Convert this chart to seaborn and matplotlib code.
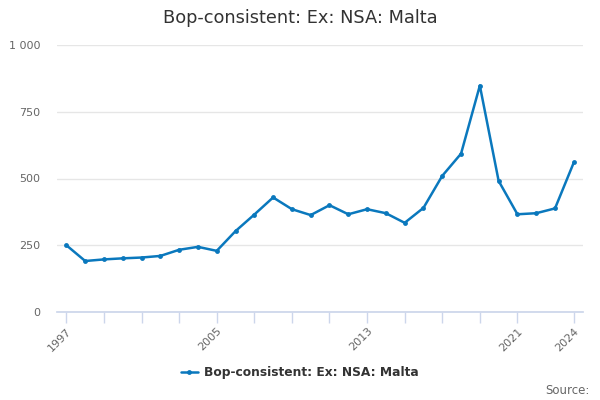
import matplotlib
matplotlib.use("Agg")
import matplotlib.pyplot as plt
import matplotlib.ticker as mticker
import seaborn as sns
import pandas as pd

years = list(range(1997, 2025))
values = [250, 191, 197, 201, 204, 210, 233, 244, 229, 303, 365, 429, 385,
          363, 400, 366, 385, 370, 334, 390, 510, 593, 848, 491, 366, 370, 388, 560]
series_name = "Bop-consistent: Ex: NSA: Malta"
title = "Bop-consistent: Ex: NSA: Malta"
tick_years = [1997, 1999, 2001, 2003, 2005, 2007, 2009, 2011, 2013, 2015, 2017, 2019, 2021, 2024]
label_years = [1997, 2005, 2013, 2021, 2024]
y_ticks = [0, 250, 500, 750, 1000]

df = pd.DataFrame({"year": years, "value": values, "series": series_name})

sns.set_theme(style="white")
plt.rcParams['font.family'] = ['DejaVu Sans']

fig = plt.figure(figsize=(6, 4), dpi=100)
ax = fig.add_axes([0.095, 0.22, 0.877, 0.6675])

line_color = "#0a78bd"
sns.lineplot(data=df, x="year", y="value", hue="series", palette=[line_color],
             marker="o", markersize=3.5, markeredgewidth=0, linewidth=1.8, ax=ax)

ax.set_xlim(1996.5, 2024.5)
ax.set_ylim(0, 1000)
ax.set_yticks(y_ticks)
ax.yaxis.set_major_formatter(mticker.FuncFormatter(lambda v, p: f"{int(v):,}".replace(",", " ")))
ax.grid(axis="y", color="#e6e6e6", linewidth=1)
ax.set_axisbelow(True)
ax.set_xticks(tick_years)
ax.set_xticklabels([str(y) if y in label_years else "" for y in tick_years],
                   rotation=45, ha="right", rotation_mode="anchor")
ax.tick_params(axis="x", bottom=True, colors="#ccd6eb", length=8, width=1, direction="out",
               labelcolor="#666666", labelsize=8, pad=2)
ax.tick_params(axis="y", left=False, length=0, labelcolor="#666666", labelsize=8, pad=12)
for s in ["top", "right", "left"]:
    ax.spines[s].set_visible(False)
ax.spines["bottom"].set_color("#ccd6eb")
ax.set_xlabel("")
ax.set_ylabel("")

leg = ax.legend(loc="center", bbox_to_anchor=(0.461, -0.228), frameon=False,
                prop={"weight": "bold", "size": 8.8}, handlelength=1.4, handletextpad=0.5)
for t in leg.get_texts():
    t.set_color("#333333")

fig.text(0.5, 0.955, title, ha="center", va="center", fontsize=12.8, color="#333333")
fig.text(0.982, 0.025, "Source:", ha="right", va="center", fontsize=8.5, color="#666666")

fig.savefig("out.png", dpi=100)
